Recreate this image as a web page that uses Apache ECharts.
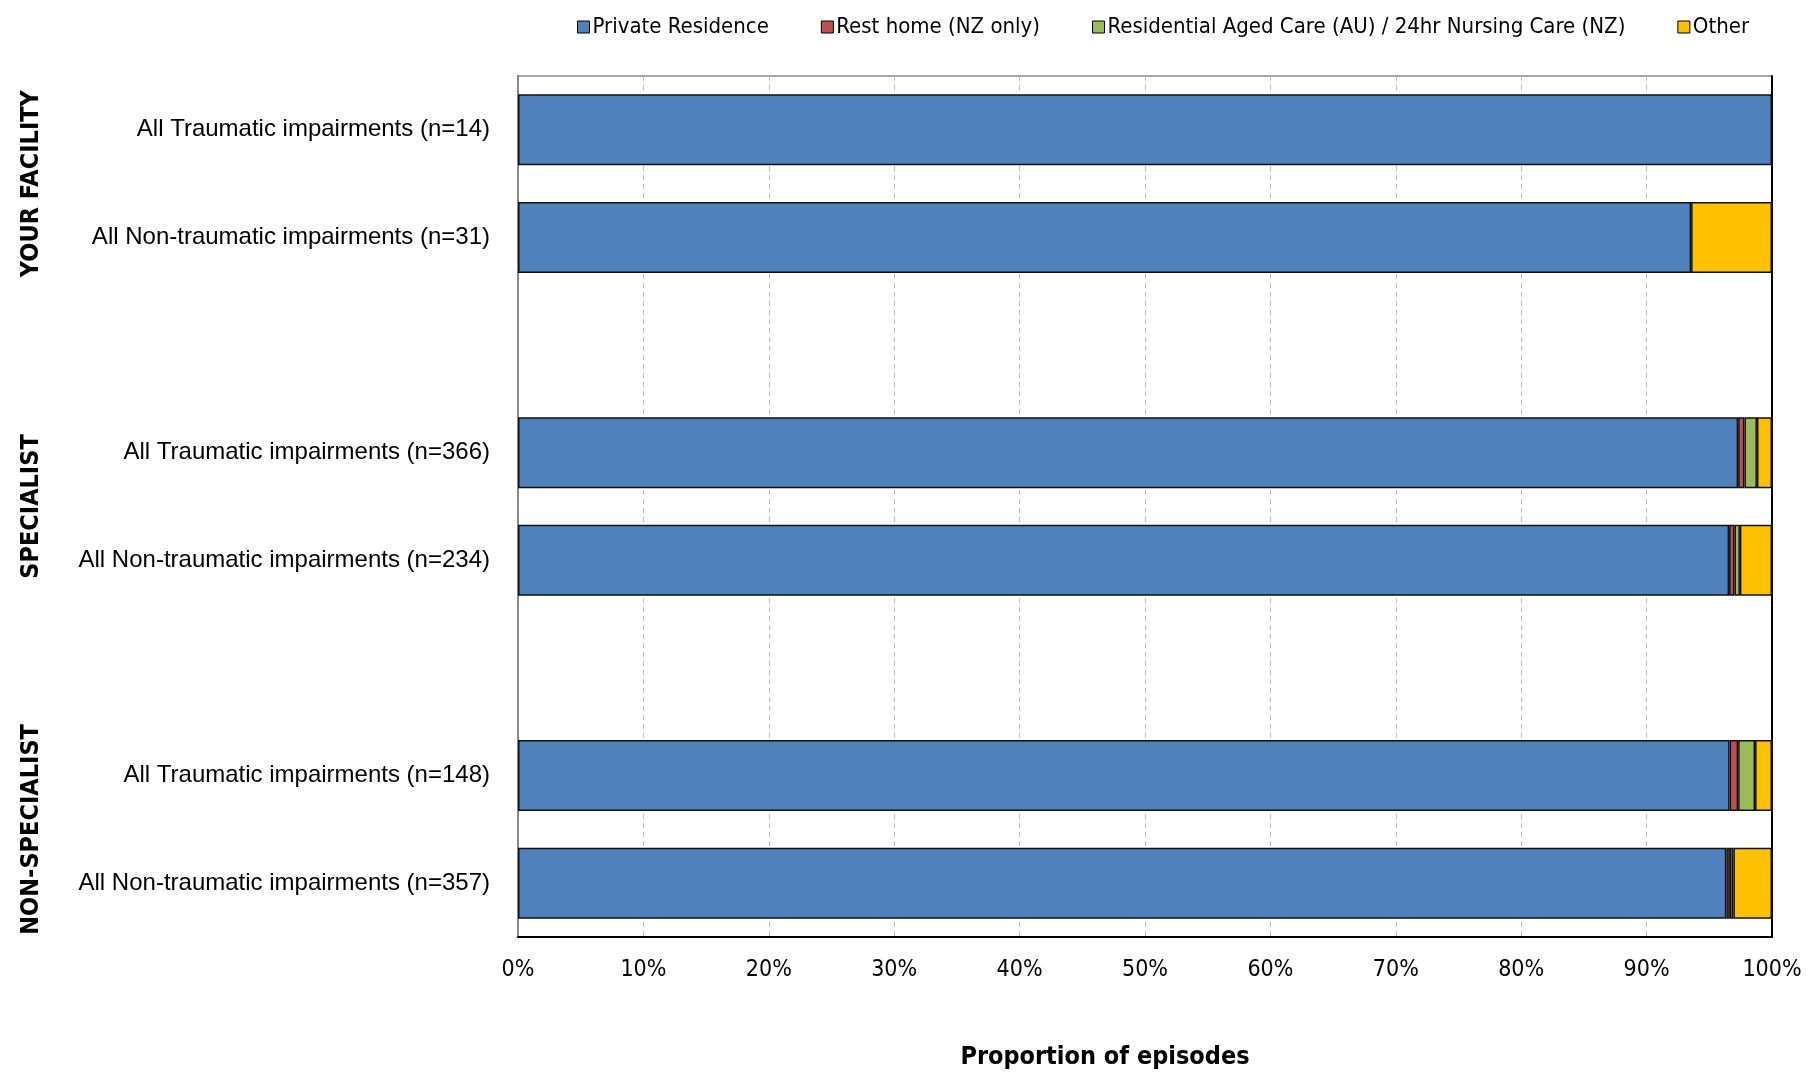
<!DOCTYPE html>
<html>
<head>
<meta charset="utf-8">
<script src="https://cdn.jsdelivr.net/npm/echarts@6/dist/echarts.min.js"></script>
<style>html,body{margin:0;padding:0;background:#fff}#c{width:1816px;height:1081px}</style>
</head>
<body>
<div id="c"></div>
<script>
const categories = [
  'All Traumatic impairments (n=14)',
  'All Non-traumatic impairments (n=31)',
  ' ',
  'All Traumatic impairments (n=366)',
  'All Non-traumatic impairments (n=234)',
  '  ',
  'All Traumatic impairments (n=148)',
  'All Non-traumatic impairments (n=357)'
];
const groupLabels = ['YOUR FACILITY', 'SPECIALIST', 'NON-SPECIALIST'];
const groupRows = [[0, 1], [3, 4], [6, 7]];
const seriesNames = ['Private Residence', 'Rest home (NZ only)', 'Residential Aged Care (AU) / 24hr Nursing Care (NZ)', 'Other'];
const privateRes = [100, 93.55, null, 97.3, 96.58, null, 96.62, 96.36];
const restHome = [null, null, null, 0.5, 0.43, null, 0.68, 0.28];
const resAgedCare = [null, null, null, 1.0, 0.43, null, 1.35, 0.28];
const other = [null, 6.45, null, 1.2, 2.56, null, 1.35, 3.08];
const xTicks = [0, 10, 20, 30, 40, 50, 60, 70, 80, 90, 100];

const colors = ['#4F81BD', '#C0504D', '#9BBB59', '#FFC000'];
const narrow = "'Liberation Sans Narrow', 'DejaVu Sans Condensed', 'Arial Narrow', sans-serif";
const values = [privateRes, restHome, resAgedCare, other];

const chart = echarts.init(document.getElementById('c'));
const option = {
  animation: false,
  color: colors,
  grid: { left: 518, top: 76, right: 44, bottom: 144, show: true, borderColor: '#888', borderWidth: 1.5 },
  legend: {
    top: 11, left: 572,
    itemWidth: 12, itemHeight: 12, itemGap: 52,
    icon: 'rect',
    textStyle: { fontFamily: narrow, fontSize: 22, color: '#000', padding: [0, 0, 0, -2] },
    itemStyle: { borderColor: '#000', borderWidth: 1 },
    data: seriesNames
  },
  xAxis: {
    type: 'value', min: xTicks[0], max: xTicks[xTicks.length - 1], interval: 10,
    axisLine: { show: true, lineStyle: { color: '#000', width: 2 } },
    axisTick: { show: false },
    splitLine: { show: true, lineStyle: { color: '#bbb', type: [5, 4], width: 1 } },
    axisLabel: { formatter: v => v + '%', fontFamily: narrow, fontSize: 23, color: '#000', margin: 22 },
    name: 'Proportion of episodes', nameLocation: 'middle', nameGap: 108,
    nameTextStyle: { fontFamily: narrow, fontSize: 25, fontWeight: 'bold', color: '#000', padding: [0, 80, 0, 0] }
  },
  yAxis: [{
    type: 'category', data: categories, inverse: true,
    axisLine: { show: true, lineStyle: { color: '#888', width: 2 } },
    axisTick: { show: false },
    axisLabel: { fontFamily: "'Liberation Sans', Arial, sans-serif", fontSize: 24, color: '#000', margin: 28, padding: [6, 0, 0, 0] }
  }, {
    type: 'category', data: categories, inverse: true, position: 'right',
    axisLine: { show: true, lineStyle: { color: '#000', width: 2 } },
    axisTick: { show: false }, axisLabel: { show: false }
  }],
  series: seriesNames.map((n, i) => ({
    name: n, type: 'bar', stack: 'total', data: values[i], barWidth: '66%',
    itemStyle: { color: colors[i], borderColor: '#111', borderWidth: 1.5 }
  }))
};
chart.setOption(option);

const graphics = groupLabels.map((g, i) => {
  const y0 = chart.convertToPixel({ yAxisIndex: 0 }, groupRows[i][0]);
  const y1 = chart.convertToPixel({ yAxisIndex: 0 }, groupRows[i][1]);
  return {
    type: 'text', x: 31, y: (y0 + y1) / 2, rotation: Math.PI / 2,
    style: { text: g, fontFamily: narrow, fontSize: 25, fontWeight: 'bold', fill: '#000', align: 'center', verticalAlign: 'middle' }
  };
});
chart.setOption({ graphic: graphics });
</script>
</body>
</html>
